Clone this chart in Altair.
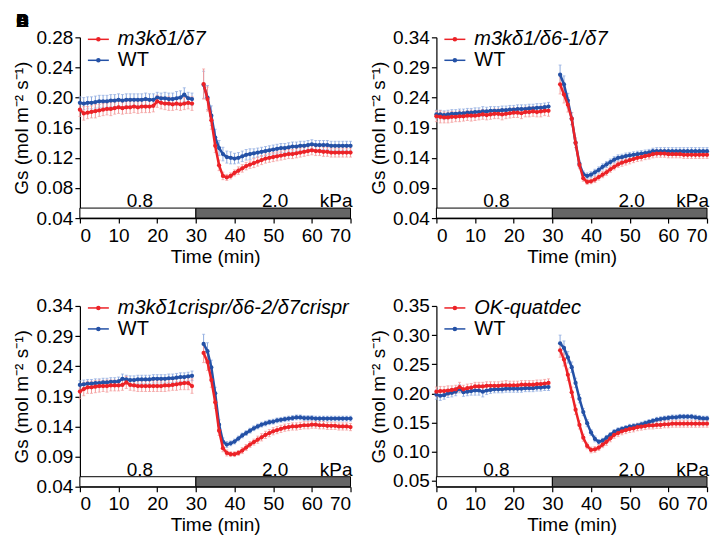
import altair as alt
import pandas as pd

# ---------------- data ----------------
TIME_PRE = list(range(0, 30))
TIME_POST = list(range(32, 71))

LABELS = ["m3kδ1/δ7", "m3kδ1/δ6-1/δ7", "m3kδ1crispr/δ6-2/δ7crispr", "OK-quatdec"]
WT_LABEL = "WT"
PANEL_LETTERS = ["A", "B", "C", "D"]

Y_DOMAINS = [[0.04, 0.28], [0.04, 0.34], [0.04, 0.34], [0.04, 0.35]]
Y_TICKS = [
    [0.04, 0.08, 0.12, 0.16, 0.20, 0.24, 0.28],
    [0.04, 0.09, 0.14, 0.19, 0.24, 0.29, 0.34],
    [0.04, 0.09, 0.14, 0.19, 0.24, 0.29, 0.34],
    [0.05, 0.10, 0.15, 0.20, 0.25, 0.30, 0.35],
]
X_TICKS = [0, 10, 20, 30, 40, 50, 60, 70]

KPA_START = [0, 30]
KPA_END = [30, 70]
KPA_LEVEL = ["0.8", "2.0"]
KPA_TEXT = ["0.8", "2.0", "kPa"]
KPA_TEXT_X = [15.5, 50.5, 66.3]

# mutant (red) series, pre (0-29 min) and post (32-70 min)
MUT_PRE = [
    [0.184, 0.179, 0.180, 0.181, 0.182, 0.183, 0.184, 0.185, 0.185, 0.186,
     0.187, 0.186, 0.187, 0.187, 0.188, 0.187, 0.188, 0.188, 0.188, 0.189,
     0.195, 0.193, 0.192, 0.192, 0.191, 0.192, 0.191, 0.192, 0.193, 0.192],
    [0.209, 0.208, 0.207, 0.207, 0.208, 0.208, 0.209, 0.209, 0.210, 0.210,
     0.210, 0.211, 0.212, 0.211, 0.212, 0.213, 0.213, 0.212, 0.213, 0.214,
     0.215, 0.215, 0.214, 0.216, 0.216, 0.217, 0.216, 0.217, 0.218, 0.218],
    [0.198, 0.202, 0.205, 0.205, 0.206, 0.207, 0.207, 0.207, 0.208, 0.208,
     0.208, 0.209, 0.213, 0.209, 0.208, 0.207, 0.207, 0.207, 0.207, 0.207,
     0.207, 0.207, 0.208, 0.208, 0.209, 0.210, 0.211, 0.212, 0.212, 0.207],
    [0.203, 0.204, 0.204, 0.205, 0.206, 0.207, 0.211, 0.207, 0.209, 0.210,
     0.212, 0.212, 0.212, 0.213, 0.213, 0.213, 0.213, 0.214, 0.214, 0.214,
     0.214, 0.214, 0.215, 0.215, 0.215, 0.215, 0.216, 0.216, 0.217, 0.218],
]
MUT_POST = [
    [0.218, 0.198, 0.170, 0.136, 0.110, 0.096, 0.094, 0.096, 0.100, 0.103,
     0.106, 0.109, 0.111, 0.113, 0.115, 0.117, 0.119, 0.120, 0.121, 0.122,
     0.123, 0.124, 0.125, 0.125, 0.126, 0.127, 0.128, 0.129, 0.130, 0.129,
     0.129, 0.128, 0.128, 0.127, 0.127, 0.127, 0.127, 0.127, 0.127],
    [0.262, 0.245, 0.228, 0.205, 0.165, 0.128, 0.106, 0.100, 0.101, 0.104,
     0.108, 0.112, 0.116, 0.121, 0.125, 0.129, 0.132, 0.134, 0.136, 0.138,
     0.140, 0.141, 0.143, 0.144, 0.146, 0.147, 0.147, 0.147, 0.146, 0.146,
     0.146, 0.146, 0.145, 0.145, 0.145, 0.145, 0.145, 0.145, 0.145],
    [0.262, 0.247, 0.217, 0.180, 0.133, 0.104, 0.096, 0.094, 0.094, 0.096,
     0.100, 0.105, 0.110, 0.114, 0.118, 0.122, 0.126, 0.129, 0.132, 0.134,
     0.136, 0.138, 0.139, 0.140, 0.140, 0.141, 0.142, 0.142, 0.143, 0.143,
     0.142, 0.142, 0.141, 0.141, 0.141, 0.140, 0.140, 0.140, 0.139],
    [0.274, 0.258, 0.232, 0.202, 0.172, 0.146, 0.124, 0.110, 0.103, 0.104,
     0.107, 0.112, 0.117, 0.123, 0.129, 0.132, 0.135, 0.137, 0.139, 0.140,
     0.142, 0.143, 0.144, 0.145, 0.145, 0.146, 0.146, 0.147, 0.147, 0.148,
     0.148, 0.148, 0.148, 0.148, 0.148, 0.148, 0.148, 0.148, 0.148],
]
# WT (blue) series
WT_PRE = [
    [0.193, 0.192, 0.193, 0.193, 0.194, 0.195, 0.195, 0.195, 0.196, 0.196,
     0.197, 0.196, 0.197, 0.197, 0.197, 0.197, 0.197, 0.198, 0.197, 0.197,
     0.200, 0.199, 0.199, 0.198, 0.198, 0.199, 0.200, 0.204, 0.199, 0.198],
    [0.212, 0.212, 0.211, 0.212, 0.213, 0.213, 0.214, 0.214, 0.215, 0.215,
     0.216, 0.216, 0.217, 0.217, 0.218, 0.218, 0.218, 0.219, 0.219, 0.220,
     0.220, 0.221, 0.221, 0.221, 0.222, 0.222, 0.223, 0.223, 0.224, 0.225],
    [0.209, 0.210, 0.211, 0.211, 0.212, 0.212, 0.213, 0.213, 0.214, 0.214,
     0.215, 0.219, 0.218, 0.217, 0.217, 0.218, 0.218, 0.218, 0.218, 0.219,
     0.219, 0.219, 0.219, 0.220, 0.220, 0.221, 0.222, 0.222, 0.223, 0.224],
    [0.198, 0.196, 0.197, 0.200, 0.201, 0.203, 0.208, 0.202, 0.203, 0.204,
     0.205, 0.205, 0.203, 0.205, 0.206, 0.207, 0.207, 0.207, 0.208, 0.208,
     0.208, 0.208, 0.208, 0.209, 0.209, 0.209, 0.210, 0.210, 0.211, 0.211],
]
WT_POST = [
    [0.217, 0.200, 0.176, 0.147, 0.133, 0.125, 0.121, 0.120, 0.119, 0.120,
     0.122, 0.124, 0.125, 0.126, 0.127, 0.128, 0.129, 0.130, 0.131, 0.132,
     0.133, 0.133, 0.134, 0.135, 0.135, 0.136, 0.136, 0.137, 0.138, 0.137,
     0.137, 0.137, 0.137, 0.136, 0.136, 0.136, 0.136, 0.136, 0.136],
    [0.278, 0.262, 0.235, 0.205, 0.165, 0.130, 0.113, 0.110, 0.112, 0.116,
     0.120, 0.125, 0.129, 0.133, 0.137, 0.140, 0.141, 0.143, 0.144, 0.145,
     0.146, 0.147, 0.148, 0.149, 0.151, 0.151, 0.151, 0.151, 0.151, 0.151,
     0.151, 0.151, 0.151, 0.151, 0.151, 0.151, 0.151, 0.151, 0.151],
    [0.277, 0.265, 0.238, 0.195, 0.143, 0.115, 0.110, 0.112, 0.115, 0.120,
     0.125, 0.129, 0.133, 0.137, 0.140, 0.143, 0.145, 0.147, 0.148, 0.150,
     0.151, 0.152, 0.153, 0.154, 0.155, 0.155, 0.154, 0.154, 0.154, 0.153,
     0.153, 0.153, 0.153, 0.153, 0.153, 0.153, 0.153, 0.153, 0.153],
    [0.286, 0.278, 0.262, 0.245, 0.218, 0.191, 0.168, 0.149, 0.133, 0.122,
     0.117, 0.119, 0.124, 0.129, 0.134, 0.137, 0.139, 0.141, 0.143, 0.144,
     0.145, 0.147, 0.149, 0.151, 0.153, 0.155, 0.156, 0.157, 0.158, 0.159,
     0.159, 0.160, 0.160, 0.160, 0.160, 0.159, 0.158, 0.157, 0.157],
]

# SEM values
MUT_ERR_PRE = [
    [0.009, 0.009, 0.008, 0.008, 0.009, 0.008, 0.008, 0.008, 0.009, 0.008,
     0.008, 0.008, 0.008, 0.008, 0.008, 0.008, 0.008, 0.008, 0.008, 0.008,
     0.008, 0.008, 0.008, 0.009, 0.008, 0.008, 0.008, 0.008, 0.008, 0.009],
    [0.009, 0.010, 0.009, 0.009, 0.009, 0.008, 0.009, 0.008, 0.008, 0.009,
     0.008, 0.008, 0.008, 0.008, 0.008, 0.008, 0.008, 0.009, 0.008, 0.008,
     0.008, 0.008, 0.009, 0.008, 0.008, 0.008, 0.008, 0.009, 0.008, 0.009],
    [0.012, 0.011, 0.010, 0.010, 0.010, 0.010, 0.009, 0.010, 0.009, 0.009,
     0.009, 0.009, 0.010, 0.009, 0.009, 0.009, 0.009, 0.009, 0.009, 0.009,
     0.009, 0.009, 0.010, 0.009, 0.009, 0.010, 0.010, 0.011, 0.011, 0.012],
    [0.008, 0.008, 0.008, 0.008, 0.007, 0.007, 0.008, 0.007, 0.007, 0.007,
     0.007, 0.007, 0.007, 0.007, 0.007, 0.007, 0.007, 0.007, 0.008, 0.007,
     0.007, 0.007, 0.007, 0.007, 0.007, 0.007, 0.007, 0.007, 0.007, 0.007],
]
MUT_ERR_POST = [
    [0.020, 0.016, 0.012, 0.009, 0.007, 0.005, 0.004, 0.004, 0.004, 0.005,
     0.005, 0.005, 0.005, 0.006, 0.006, 0.006, 0.006, 0.006, 0.006, 0.006,
     0.006, 0.006, 0.006, 0.006, 0.006, 0.006, 0.006, 0.006, 0.006, 0.006,
     0.006, 0.006, 0.006, 0.006, 0.006, 0.006, 0.006, 0.006, 0.006],
    [0.016, 0.014, 0.012, 0.010, 0.008, 0.006, 0.005, 0.004, 0.004, 0.005,
     0.005, 0.005, 0.005, 0.005, 0.005, 0.005, 0.006, 0.006, 0.006, 0.006,
     0.006, 0.006, 0.006, 0.006, 0.006, 0.006, 0.006, 0.006, 0.006, 0.006,
     0.006, 0.006, 0.006, 0.006, 0.006, 0.006, 0.006, 0.006, 0.006],
    [0.016, 0.014, 0.012, 0.010, 0.008, 0.006, 0.005, 0.004, 0.004, 0.004,
     0.005, 0.005, 0.005, 0.005, 0.006, 0.006, 0.006, 0.006, 0.006, 0.006,
     0.006, 0.006, 0.006, 0.006, 0.006, 0.006, 0.006, 0.006, 0.006, 0.006,
     0.006, 0.006, 0.006, 0.006, 0.006, 0.006, 0.006, 0.006, 0.006],
    [0.012, 0.011, 0.010, 0.009, 0.008, 0.007, 0.006, 0.005, 0.005, 0.005,
     0.005, 0.005, 0.006, 0.006, 0.006, 0.006, 0.006, 0.006, 0.006, 0.006,
     0.006, 0.006, 0.006, 0.006, 0.006, 0.006, 0.006, 0.006, 0.006, 0.006,
     0.006, 0.006, 0.006, 0.006, 0.006, 0.006, 0.006, 0.006, 0.006],
]
WT_ERR_PRE = [
    [0.008, 0.008, 0.008, 0.008, 0.008, 0.008, 0.008, 0.008, 0.008, 0.008,
     0.008, 0.008, 0.008, 0.008, 0.008, 0.008, 0.008, 0.008, 0.008, 0.008,
     0.007, 0.007, 0.008, 0.008, 0.008, 0.009, 0.009, 0.009, 0.008, 0.008],
    [0.007, 0.007, 0.007, 0.007, 0.007, 0.007, 0.007, 0.007, 0.007, 0.007,
     0.007, 0.007, 0.008, 0.007, 0.007, 0.007, 0.007, 0.007, 0.007, 0.007,
     0.007, 0.007, 0.007, 0.007, 0.007, 0.007, 0.007, 0.007, 0.007, 0.007],
    [0.007, 0.007, 0.007, 0.007, 0.007, 0.007, 0.007, 0.007, 0.007, 0.007,
     0.007, 0.008, 0.007, 0.007, 0.007, 0.007, 0.007, 0.007, 0.007, 0.007,
     0.007, 0.007, 0.007, 0.007, 0.007, 0.007, 0.007, 0.007, 0.007, 0.008],
    [0.008, 0.008, 0.007, 0.007, 0.007, 0.007, 0.007, 0.007, 0.007, 0.007,
     0.008, 0.008, 0.009, 0.007, 0.006, 0.006, 0.006, 0.006, 0.006, 0.006,
     0.006, 0.006, 0.006, 0.006, 0.006, 0.006, 0.006, 0.006, 0.006, 0.006],
]
WT_ERR_POST = [
    [0.018, 0.016, 0.013, 0.011, 0.010, 0.009, 0.008, 0.008, 0.007, 0.007,
     0.007, 0.007, 0.007, 0.006, 0.006, 0.006, 0.006, 0.006, 0.006, 0.006,
     0.006, 0.006, 0.006, 0.006, 0.006, 0.006, 0.006, 0.006, 0.006, 0.006,
     0.006, 0.006, 0.006, 0.006, 0.006, 0.006, 0.006, 0.006, 0.006],
    [0.016, 0.014, 0.012, 0.010, 0.008, 0.006, 0.005, 0.005, 0.005, 0.005,
     0.005, 0.005, 0.005, 0.005, 0.005, 0.005, 0.005, 0.005, 0.005, 0.005,
     0.005, 0.005, 0.005, 0.005, 0.005, 0.006, 0.006, 0.006, 0.006, 0.006,
     0.006, 0.006, 0.006, 0.006, 0.006, 0.006, 0.006, 0.006, 0.006],
    [0.016, 0.014, 0.012, 0.010, 0.008, 0.006, 0.005, 0.004, 0.004, 0.004,
     0.004, 0.004, 0.004, 0.004, 0.004, 0.004, 0.004, 0.004, 0.004, 0.004,
     0.004, 0.004, 0.004, 0.004, 0.004, 0.004, 0.004, 0.004, 0.004, 0.004,
     0.004, 0.004, 0.004, 0.004, 0.004, 0.004, 0.004, 0.004, 0.004],
    [0.014, 0.012, 0.010, 0.009, 0.008, 0.007, 0.006, 0.006, 0.005, 0.005,
     0.004, 0.004, 0.004, 0.004, 0.004, 0.004, 0.004, 0.004, 0.004, 0.004,
     0.004, 0.004, 0.004, 0.004, 0.004, 0.004, 0.004, 0.004, 0.004, 0.004,
     0.004, 0.004, 0.004, 0.004, 0.004, 0.004, 0.004, 0.004, 0.004],
]

# ---------------- style ----------------
RED = "#ec2227"
RED_LIGHT = "#f39a9a"
BLUE = "#2451a6"
BLUE_LIGHT = "#8daadf"
FONT = "Liberation Sans"
W = 271
H = 181


def series_df(pre, post, err_pre, err_post):
    t = TIME_PRE + TIME_POST
    g = pre + post
    e = err_pre + err_post
    seg = ["pre"] * len(TIME_PRE) + ["post"] * len(TIME_POST)
    df = pd.DataFrame({"t": t, "gs": g, "err": e, "seg": seg})
    df["lo"] = df["gs"] - df["err"]
    df["hi"] = df["gs"] + df["err"]
    return df


def panel(i, with_letter=False):
    xscale = alt.Scale(domain=[0, 70], nice=False)
    yscale = alt.Scale(domain=Y_DOMAINS[i], nice=False, zero=False)
    xaxis = alt.Axis(values=X_TICKS, grid=False, tickSize=5, labelPadding=3,
                     titlePadding=2, format="d")
    yaxis = alt.Axis(values=Y_TICKS[i], grid=False, tickSize=5, labelPadding=2,
                     titlePadding=4, format=".2f")
    xt = "Time (min)"
    yt = "Gs (mol m⁻² s⁻¹)"

    def X(f):
        return alt.X(f, scale=xscale, axis=xaxis, title=xt)

    def Y(f):
        return alt.Y(f, scale=yscale, axis=yaxis, title=yt)

    mut = series_df(MUT_PRE[i], MUT_POST[i], MUT_ERR_PRE[i], MUT_ERR_POST[i])
    wt = series_df(WT_PRE[i], WT_POST[i], WT_ERR_PRE[i], WT_ERR_POST[i])

    layers = []
    # kPa bar
    kpa = pd.DataFrame({"a": KPA_START, "b": KPA_END, "lvl": KPA_LEVEL})
    layers.append(
        alt.Chart(kpa).mark_rect(stroke="black", strokeWidth=1).encode(
            x=X("a:Q"), x2="b:Q",
            y=alt.value(H - 10), y2=alt.value(H),
            color=alt.Color("lvl:N", scale=alt.Scale(domain=KPA_LEVEL, range=["white", "#666666"]), legend=None),
        )
    )
    kt = pd.DataFrame({"x": KPA_TEXT_X, "txt": KPA_TEXT})
    layers.append(
        alt.Chart(kt).mark_text(fontSize=19, baseline="alphabetic", align="center", font=FONT, color="black").encode(
            x=X("x:Q"), y=alt.value(H - 11), text="txt:N"
        )
    )
    # error bars
    for df, c in [(wt, BLUE_LIGHT), (mut, RED_LIGHT)]:
        base = alt.Chart(df)
        layers.append(base.mark_rule(color=c, strokeWidth=1).encode(x=X("t:Q"), y=Y("lo:Q"), y2="hi:Q"))
        layers.append(base.mark_tick(color=c, orient="horizontal", size=3, thickness=1).encode(x=X("t:Q"), y=Y("hi:Q")))
        layers.append(base.mark_tick(color=c, orient="horizontal", size=3, thickness=1).encode(x=X("t:Q"), y=Y("lo:Q")))
    # lines and points
    for df, c in [(wt, BLUE), (mut, RED)]:
        base = alt.Chart(df)
        layers.append(base.mark_line(color=c, strokeWidth=2.5).encode(x=X("t:Q"), y=Y("gs:Q"), detail="seg:N"))
        layers.append(base.mark_point(color=c, filled=True, opacity=1, size=18).encode(x=X("t:Q"), y=Y("gs:Q")))

    # legend
    leg_rows = [(LABELS[i], RED, "italic", 2), (WT_LABEL, BLUE, "normal", 23)]
    for lab, c, style, yy in leg_rows:
        ld = pd.DataFrame({"label": [lab]})
        lb = alt.Chart(ld)
        layers.append(lb.mark_rule(color=c, strokeWidth=1.5).encode(
            x=alt.value(8), x2=alt.value(29), y=alt.value(yy)))
        layers.append(lb.mark_point(color=c, filled=True, opacity=1, size=20).encode(
            x=alt.value(18.5), y=alt.value(yy)))
        layers.append(lb.mark_text(align="left", baseline="middle", fontSize=20, fontStyle=style,
                                   font=FONT, color="black").encode(
            x=alt.value(38), y=alt.value(yy), text="label:N"))

    if with_letter:
        letters = pd.DataFrame({"letter": PANEL_LETTERS})
        layers.append(alt.Chart(letters).mark_text(align="left", baseline="top", fontSize=18,
                                                   fontWeight="bold", font=FONT, color="black").encode(
            x=alt.value(-64), y=alt.value(-24), text="letter:N"))

    return alt.layer(*layers).properties(width=W, height=H)


row1 = alt.hconcat(panel(0, True), panel(1), spacing=14)
row2 = alt.hconcat(panel(2), panel(3), spacing=14)
chart = alt.vconcat(row1, row2, spacing=31).resolve_scale(x="independent", y="independent", color="shared").configure(
    font=FONT
).configure_view(stroke=None).configure_axis(
    labelFont=FONT, titleFont=FONT, labelFontSize=19, titleFontSize=19,
    labelColor="black", titleColor="black", domainColor="black", tickColor="black",
    domainWidth=1.2, tickWidth=1.2, titleFontWeight="normal",
)

chart.save("out.html", embed_options={"renderer": "svg", "actions": False})
